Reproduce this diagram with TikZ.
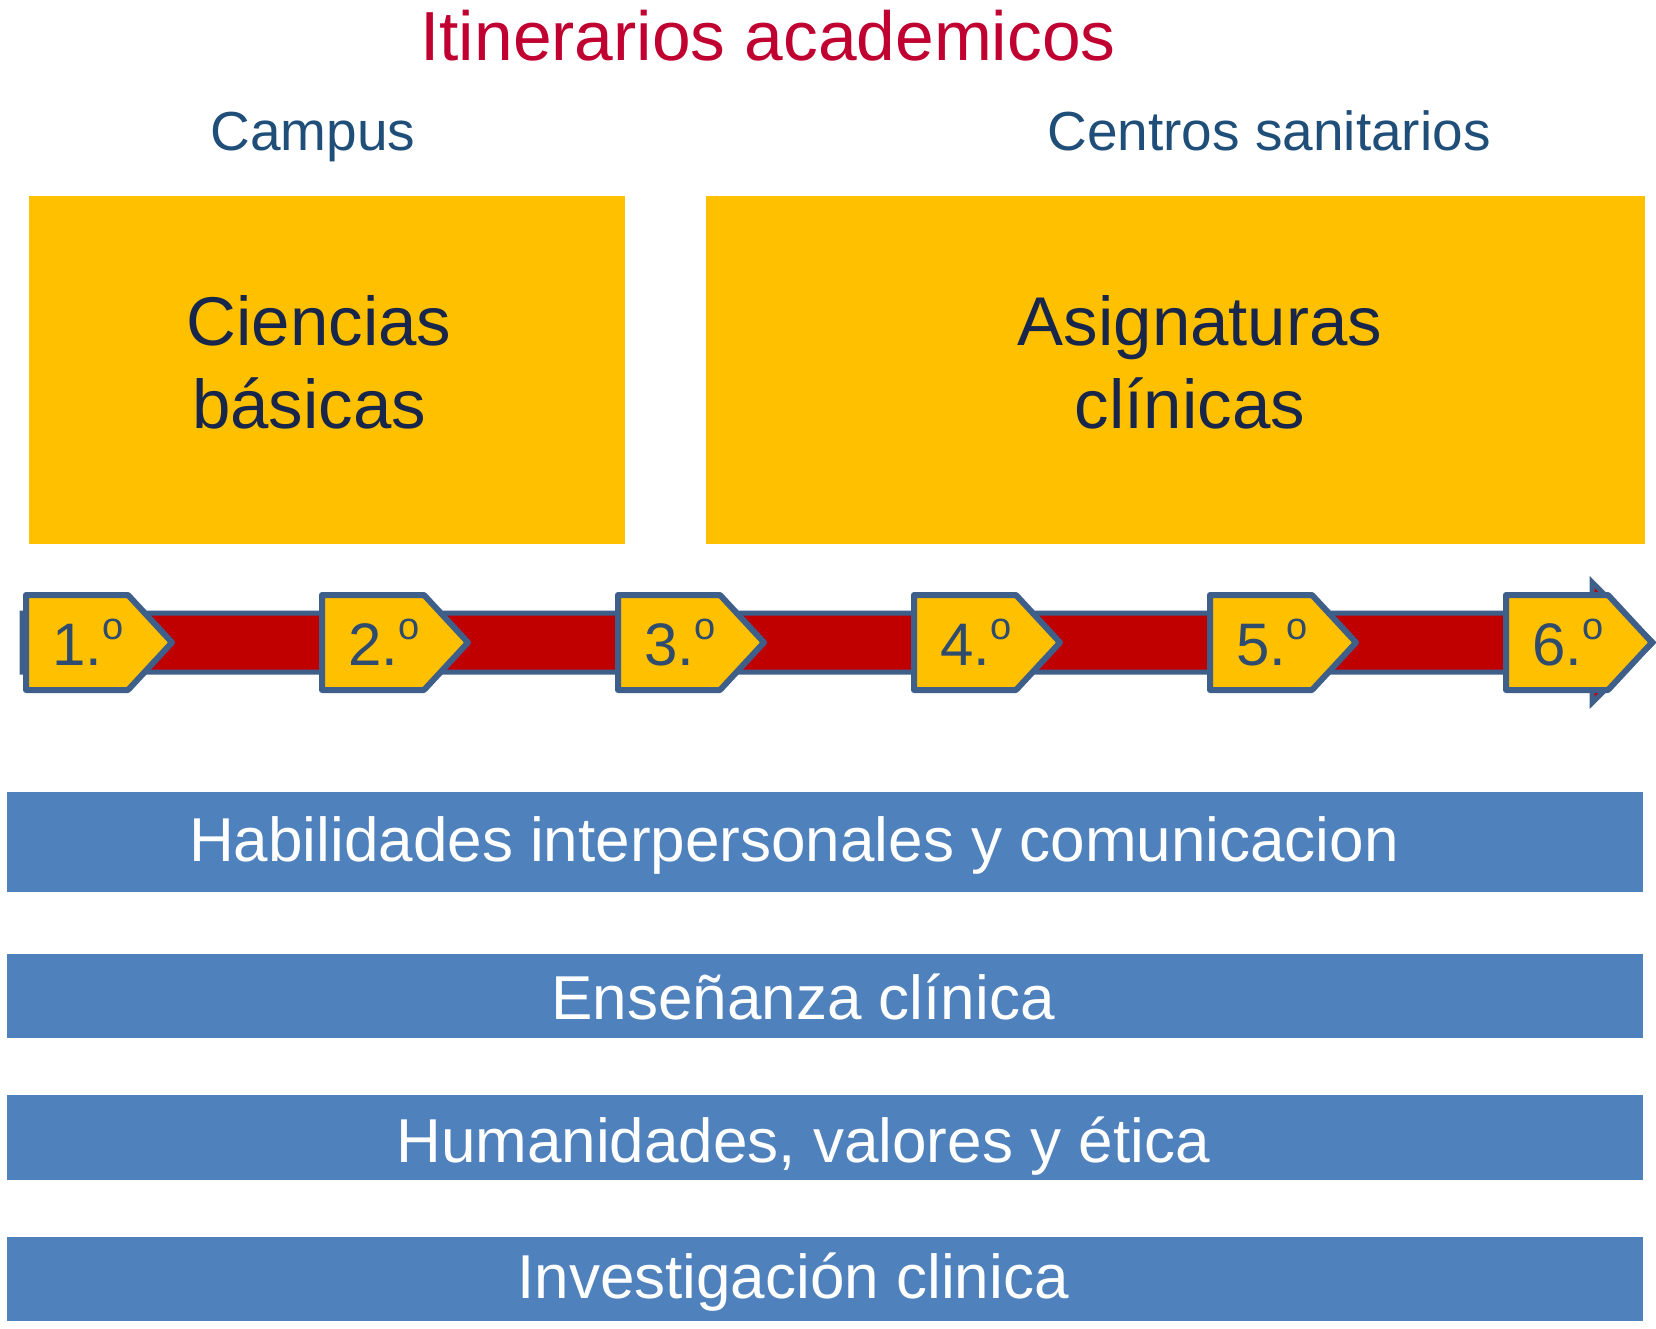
\documentclass[tikz,border=0pt]{standalone}
\usepackage{fontspec}
\setmainfont{Liberation Sans}
\definecolor{ttlred}{HTML}{C00030}
\definecolor{hdblue}{HTML}{1F4E79}
\definecolor{boxyel}{HTML}{FFC000}
\definecolor{boxtxt}{HTML}{17264A}
\definecolor{barred}{HTML}{C00000}
\definecolor{edgeblue}{HTML}{3F5F8B}
\definecolor{numtxt}{HTML}{2F4B6E}
\definecolor{bandblue}{HTML}{4F81BD}
\newcommand{\ordo}{\raisebox{0.42em}{\fontsize{38}{40}\selectfont o}}
\tikzset{
  ybox/.style={fill=boxyel, draw=none},
  band/.style={fill=bandblue, draw=none},
  bandtxt/.style={text=white, font=\fontsize{62}{70}\selectfont, anchor=base, inner sep=0pt},
  boxlbl/.style={text=boxtxt, font=\fontsize{69}{80}\selectfont, anchor=base, inner sep=0pt},
  hdtxt/.style={text=hdblue, font=\fontsize{55}{62}\selectfont, anchor=base, inner sep=0pt},
  pent/.style={fill=boxyel, draw=edgeblue, line width=6pt, line join=round},
  numlbl/.style={text=numtxt, font=\fontsize{60}{66}\selectfont, anchor=base west, inner sep=0pt},
}
\begin{document}
\begin{tikzpicture}[x=1pt,y=-1pt]
\useasboundingbox (0,0) rectangle (1656,1329);
% title and headers
\node[anchor=base, inner sep=0pt, text=ttlred, font=\fontsize{69.5}{80}\selectfont] (title) at (768,61) {Itinerarios academicos};
\node[hdtxt] (campus) at (313,151) {Campus};
\node[hdtxt] (centros) at (1269,151) {Centros sanitarios};
% yellow boxes
\path[ybox] (28.5,196) rectangle (625,544);
\path[ybox] (705.5,196) rectangle (1645,544);
\node[boxlbl] (cb1) at (319,345) {Ciencias};
\node[boxlbl] (cb2) at (309,428) {básicas};
\node[boxlbl] (ac1) at (1200,345) {Asignaturas};
\node[boxlbl] (ac2) at (1190,428) {clínicas};
% red arrow
\draw[fill=barred, draw=edgeblue, line width=5pt, line join=miter]
  (22,613) -- (1592,613) -- (1592,582) -- (1653,642.5) -- (1592,703) -- (1592,672) -- (22,672) -- cycle;
% pentagons
\foreach \i/\t in {0/1,1/2,2/3,3/4,4/5,5/6}{
  \pgfmathsetmacro{\L}{26+296*\i}
  \draw[pent] (\L,595) -- (\L+102,595) -- (\L+146,642.5) -- (\L+102,690) -- (\L,690) -- cycle;
  \node[numlbl] (n\t) at (\L+26,665) {\t.\ordo};
}
% blue bands
\path[band] (7.4,792) rectangle (1643,892);
\path[band] (7.4,953.6) rectangle (1643,1038);
\path[band] (7.4,1095) rectangle (1643,1180);
\path[band] (7.4,1237) rectangle (1643,1321);
\node[bandtxt] (b1) at (794,861) {Habilidades interpersonales y comunicacion};
\node[bandtxt] (b2) at (803,1019) {Enseñanza clínica};
\node[bandtxt] (b3) at (803,1162) {Humanidades, valores y ética};
\node[bandtxt] (b4) at (793,1298) {Investigación clinica};
\end{tikzpicture}
\end{document}
